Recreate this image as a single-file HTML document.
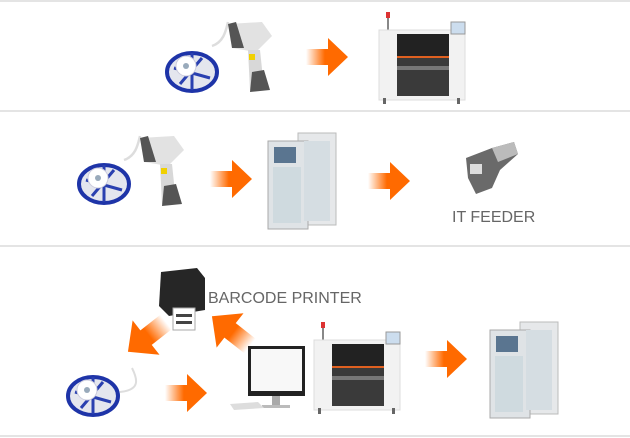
<!DOCTYPE html>
<html><head><style>
html,body{margin:0;padding:0;background:#fff;}
svg{display:block;}
text{font-family:"Liberation Sans",sans-serif;fill:#666;}
</style></head><body>
<svg width="630" height="438" viewBox="0 0 630 438" xmlns="http://www.w3.org/2000/svg">
<defs>
<linearGradient id="ag" x1="0" y1="0" x2="1" y2="0">
<stop offset="0" stop-color="#ff6a00" stop-opacity="0"/>
<stop offset="0.45" stop-color="#ff6a00" stop-opacity="1"/>
<stop offset="1" stop-color="#ff6a00"/>
</linearGradient>
<g id="arrow">
<path d="M0,11 H22 V0 L42,19 L22,38 V27 H0 Z" fill="url(#ag)"/>
</g>
<g id="reel">
<ellipse cx="26" cy="24" rx="25" ry="19" fill="#e4e6ee" stroke="#1e34a8" stroke-width="4"/>
<path d="M8,20 L44,30 M14,36 L36,10 M26,5 L26,42" stroke="#2a40b0" stroke-width="3"/>
<circle cx="20" cy="18" r="10" fill="#fff" stroke="#ccd" />
<circle cx="20" cy="18" r="3" fill="#9ab"/>
</g>
<g id="scanner">
<path d="M46,24 C58,20 60,8 62,0" fill="none" stroke="#ddd" stroke-width="2.5"/>
<path d="M62,2 L96,0 L106,14 L90,30 L66,26 Z" fill="#e2e2e2"/>
<path d="M62,2 L70,0 L78,26 L66,26 Z" fill="#555"/>
<path d="M82,28 L94,28 L98,66 L84,68 Z" fill="#d8d8d8"/>
<path d="M86,50 L98,48 L104,68 L84,70 Z" fill="#555"/>
<rect x="83" y="32" width="6" height="6" fill="#f0d000"/>
</g>
<g id="machine">
<rect x="10" y="0" width="2" height="18" fill="#888"/>
<rect x="9" y="0" width="4" height="6" fill="#d33"/>
<rect x="2" y="18" width="86" height="70" fill="#f2f2f2" stroke="#ddd"/>
<rect x="20" y="22" width="52" height="22" fill="#222"/>
<rect x="20" y="44" width="52" height="2" fill="#e06020"/>
<rect x="20" y="46" width="52" height="38" fill="#3a3a3a"/>
<rect x="20" y="54" width="52" height="4" fill="#777"/>
<rect x="74" y="10" width="14" height="12" fill="#cde" stroke="#999"/>
<rect x="6" y="86" width="3" height="6" fill="#666"/><rect x="80" y="86" width="3" height="6" fill="#666"/>
</g>
<g id="tower">
<rect x="30" y="0" width="38" height="92" fill="#e6e8ea" stroke="#bbb"/>
<rect x="0" y="8" width="40" height="88" fill="#dfe3e6" stroke="#aaa"/>
<rect x="6" y="14" width="22" height="16" fill="#5a7590"/>
<rect x="5" y="34" width="28" height="56" fill="#cfdadf"/>
<rect x="36" y="8" width="26" height="80" fill="#d5dde2"/>
</g>
<g id="printer">
<path d="M4,4 L40,0 L48,10 L48,42 L12,48 L2,38 Z" fill="#262626"/>
<rect x="16" y="40" width="22" height="22" fill="#fff" stroke="#aaa"/>
<rect x="19" y="46" width="16" height="3" fill="#444"/>
<rect x="19" y="53" width="16" height="3" fill="#444"/>
</g>
</defs>
<rect x="0" y="0" width="630" height="2" fill="#e4e4e4"/>
<rect x="0" y="110" width="630" height="2" fill="#e4e4e4"/>
<rect x="0" y="245" width="630" height="2" fill="#e4e4e4"/>
<rect x="0" y="435" width="630" height="2" fill="#e4e4e4"/>

<use href="#reel" x="166" y="48"/>
<use href="#scanner" x="166" y="22"/>
<use href="#arrow" x="306" y="38"/>
<use href="#machine" x="377" y="12"/>

<use href="#reel" x="78" y="160"/>
<use href="#scanner" x="78" y="136"/>
<use href="#arrow" x="210" y="160"/>
<use href="#tower" x="268" y="133"/>
<use href="#arrow" x="368" y="162"/>
<g transform="translate(462,148)">
<path d="M4,10 L30,0 L52,-6 L56,6 L38,22 L30,40 L14,46 L6,30 Z" fill="#6a6a6a"/>
<path d="M30,0 L52,-6 L56,6 L36,14 Z" fill="#bbb"/>
<rect x="8" y="16" width="12" height="10" fill="#ddd"/>
</g>
<text x="452" y="222" font-size="16">IT FEEDER</text>

<use href="#printer" x="157" y="268"/>
<text x="208" y="303" font-size="16">BARCODE PRINTER</text>
<g transform="translate(166,322) rotate(142) scale(1.15)"><use href="#arrow" x="0" y="-19"/></g>
<g transform="translate(250,346) rotate(-142) scale(1.15)"><use href="#arrow" x="0" y="-19"/></g>
<use href="#reel" x="67" y="372"/>
<path d="M120,392 C140,390 138,380 132,368" fill="none" stroke="#ddd" stroke-width="2"/>
<use href="#arrow" x="165" y="374"/>
<g>
<rect x="248" y="346" width="57" height="50" fill="#222"/>
<rect x="251" y="349" width="51" height="42" fill="#f8f8f8"/>
<rect x="272" y="396" width="8" height="10" fill="#aaa"/>
<rect x="262" y="405" width="28" height="3" fill="#bbb"/>
<path d="M230,404 L258,402 L264,408 L234,410 Z" fill="#ddd"/>
</g>
<use href="#machine" x="312" y="322"/>
<use href="#arrow" x="425" y="340"/>
<use href="#tower" x="490" y="322"/>
</svg>
</body></html>
